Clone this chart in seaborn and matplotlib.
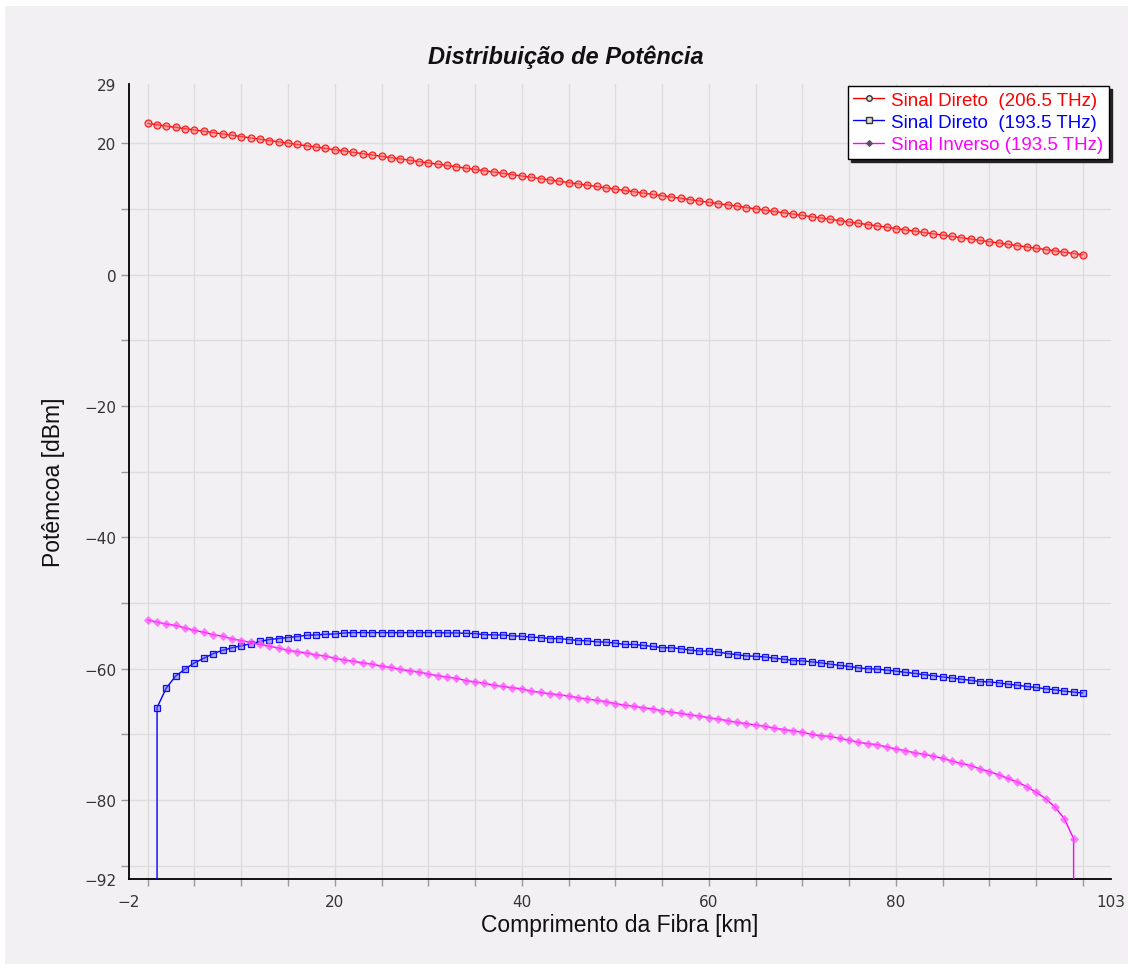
import matplotlib
matplotlib.use("Agg")
import matplotlib.pyplot as plt
from matplotlib.lines import Line2D
from matplotlib.patches import Rectangle
from matplotlib.ticker import FixedLocator, FixedFormatter
import seaborn as sns

# ---------------- data ----------------
title = "Distribuição de Potência"
x_label = "Comprimento da Fibra [km]"
y_label = "Potêmcoa [dBm]"
series_labels = ["Sinal Direto  (206.5 THz)",
                 "Sinal Direto  (193.5 THz)",
                 "Sinal Inverso (193.5 THz)"]

red_km = list(range(0, 101))
red_dbm = [23.0, 22.8, 22.6, 22.4, 22.2, 22.0, 21.8, 21.6, 21.4, 21.2,
           21.0, 20.8, 20.6, 20.4, 20.2, 20.0, 19.8, 19.6, 19.4, 19.2,
           19.0, 18.8, 18.6, 18.4, 18.2, 18.0, 17.8, 17.6, 17.4, 17.2,
           17.0, 16.8, 16.6, 16.4, 16.2, 16.0, 15.8, 15.6, 15.4, 15.2,
           15.0, 14.8, 14.6, 14.4, 14.2, 14.0, 13.8, 13.6, 13.4, 13.2,
           13.0, 12.8, 12.6, 12.4, 12.2, 12.0, 11.8, 11.6, 11.4, 11.2,
           11.0, 10.8, 10.6, 10.4, 10.2, 10.0, 9.8, 9.6, 9.4, 9.2,
           9.0, 8.8, 8.6, 8.4, 8.2, 8.0, 7.8, 7.6, 7.4, 7.2,
           7.0, 6.8, 6.6, 6.4, 6.2, 6.0, 5.8, 5.6, 5.4, 5.2,
           5.0, 4.8, 4.6, 4.4, 4.2, 4.0, 3.8, 3.6, 3.4, 3.2,
           3.0]

# first point is the zero-power floor (drop line at 1 km)
blue_km = [1] + list(range(1, 101))
blue_dbm = [-300.0,
            -65.9, -62.9, -61.1, -60.05, -59.1, -58.4, -57.7, -57.2, -56.8, -56.5,
            -56.2, -55.85, -55.55, -55.4, -55.25, -55.1, -54.9, -54.85, -54.75, -54.7,
            -54.55, -54.5, -54.5, -54.5, -54.5, -54.5, -54.5, -54.5, -54.5, -54.5,
            -54.5, -54.55, -54.55, -54.6, -54.65, -54.8, -54.85, -54.85, -55.0, -55.05,
            -55.2, -55.25, -55.4, -55.4, -55.55, -55.7, -55.75, -55.9, -55.95, -56.1,
            -56.3, -56.3, -56.45, -56.6, -56.8, -56.8, -56.95, -57.15, -57.3, -57.3,
            -57.45, -57.7, -57.85, -58.05, -58.1, -58.2, -58.4, -58.55, -58.75, -58.8,
            -58.95, -59.1, -59.3, -59.5, -59.65, -59.85, -60.0, -60.05, -60.2, -60.35,
            -60.55, -60.7, -60.9, -61.05, -61.25, -61.4, -61.6, -61.75, -61.95, -62.0,
            -62.15, -62.35, -62.5, -62.7, -62.85, -63.05, -63.2, -63.4, -63.55, -63.7]

# last point is the zero-power floor (drop line at 99 km)
mag_km = list(range(0, 100)) + [99]
mag_dbm = [-52.55, -52.9, -53.2, -53.4, -53.8, -54.15, -54.45, -54.8, -55.05, -55.45,
           -55.7, -56.0, -56.3, -56.55, -56.85, -57.2, -57.4, -57.6, -57.9, -58.05,
           -58.4, -58.65, -58.85, -59.1, -59.3, -59.6, -59.8, -60.1, -60.3, -60.5,
           -60.8, -61.05, -61.25, -61.45, -61.8, -62.0, -62.2, -62.5, -62.7, -62.9,
           -63.05, -63.4, -63.6, -63.8, -63.95, -64.15, -64.4, -64.6, -64.8, -65.0,
           -65.3, -65.55, -65.7, -65.95, -66.1, -66.4, -66.6, -66.8, -67.0, -67.2,
           -67.45, -67.65, -67.9, -68.15, -68.35, -68.55, -68.75, -69.05, -69.25, -69.45,
           -69.65, -70.0, -70.2, -70.3, -70.6, -70.85, -71.2, -71.4, -71.55, -71.9,
           -72.2, -72.45, -72.8, -73.0, -73.3, -73.65, -74.05, -74.4, -74.75, -75.25,
           -75.65, -76.15, -76.7, -77.25, -77.95, -78.8, -79.75, -81.05, -82.8, -85.85,
           -300.0]

x_major = [-2, 20, 40, 60, 80, 103]
x_major_labels = ["−2", "20", "40", "60", "80", "103"]
x_minor = list(range(0, 101, 5))
y_major = [-92, -80, -60, -40, -20, 0, 20, 29]
y_major_labels = ["−92", "−80", "−60", "−40", "−20", "0", "20", "29"]
y_minor = list(range(-90, 21, 10))

# ---------------- style ----------------
sns.set_theme(style="white")
BG = "#f2f0f3"
plt.rcParams["font.family"] = ["Liberation Sans", "DejaVu Sans"]

fig = plt.figure(figsize=(11.32, 9.70), dpi=100)
fig.patch.set_facecolor("white")
fig.patches.append(Rectangle((5 / 1132, 5 / 970), 1123 / 1132, 958 / 970,
                             transform=fig.transFigure, facecolor=BG,
                             edgecolor="none", zorder=-10))

L, R, T, B = 129, 1111, 85, 880
ax = fig.add_axes([L / 1132, 1 - B / 970, (R - L) / 1132, (B - T) / 970])
ax.set_facecolor(BG)

sns.lineplot(x=red_km, y=red_dbm, ax=ax, estimator=None, sort=False,
             color="#ff0000", lw=1.0, marker="o", markersize=5,
             markerfacecolor=(1, 0.45, 0.45, 0.55), markeredgecolor="#ff2020",
             markeredgewidth=0.9, legend=False, zorder=5)
sns.lineplot(x=blue_km, y=blue_dbm, ax=ax, estimator=None, sort=False,
             color="#0000ff", lw=1.0, marker="s", markersize=4.8,
             markerfacecolor=(0.35, 0.35, 1, 0.45), markeredgecolor="#1010ee",
             markeredgewidth=0.9, legend=False, zorder=5)
sns.lineplot(x=mag_km, y=mag_dbm, ax=ax, estimator=None, sort=False,
             color="#ff00ff", lw=1.0, marker="D", markersize=3.6,
             markerfacecolor=(1, 0.3, 1, 0.7), markeredgecolor=(1, 0.4, 1, 0.6),
             markeredgewidth=0.8, legend=False, zorder=5)

ax.set_xlim(-2, 103)
ax.set_ylim(-92, 29)

for s in ["top", "right"]:
    ax.spines[s].set_visible(False)
for s in ["left", "bottom"]:
    ax.spines[s].set_color("black")
    ax.spines[s].set_linewidth(1.3)

ax.xaxis.set_major_locator(FixedLocator(x_major))
ax.xaxis.set_major_formatter(FixedFormatter(x_major_labels))
ax.xaxis.set_minor_locator(FixedLocator(x_minor))
ax.yaxis.set_major_locator(FixedLocator(y_major))
ax.yaxis.set_major_formatter(FixedFormatter(y_major_labels))
ax.yaxis.set_minor_locator(FixedLocator(y_minor))
ax.xaxis.remove_overlapping_locs = False
ax.yaxis.remove_overlapping_locs = False

ax.tick_params(axis="both", which="major", length=0, labelsize=11,
               labelcolor="#333333")
ax.tick_params(axis="x", which="major", pad=11)
ax.tick_params(axis="y", which="major", pad=9)
ax.tick_params(axis="x", which="minor", length=5, width=1, color="#999999",
               direction="out", bottom=True)
ax.tick_params(axis="y", which="minor", length=6, width=1, color="#999999",
               direction="out", left=True)
for lab in ax.get_xticklabels() + ax.get_yticklabels():
    lab.set_fontfamily("DejaVu Sans")

ax.grid(False, which="major")
ax.grid(True, which="minor", color="#dddddd", lw=1.0)
ax.set_axisbelow(True)

ax.set_xlabel(x_label, fontsize=16.5, color="#111111")
ax.set_ylabel(y_label, fontsize=16.5, color="#111111")
ax.xaxis.set_label_coords(0.5, -(914 - 880) / 795)
ax.xaxis.label.set_va("top")
ax.yaxis.set_label_coords(-(129 - 65) / 982, 0.5)

fig.text(0.5, 1 - 57 / 970, title, ha="center", va="center",
         fontsize=17, fontweight="bold", fontstyle="italic", color="#111111")

handles = [
    Line2D([], [], color="#ff0000", lw=1, marker="o", markersize=4,
           markerfacecolor="#dddddd", markeredgecolor="#333333", markeredgewidth=1),
    Line2D([], [], color="#0000ff", lw=1, marker="s", markersize=4,
           markerfacecolor="#dddddd", markeredgecolor="#333333", markeredgewidth=1),
    Line2D([], [], color="#ff00ff", lw=1, marker="D", markersize=3,
           markerfacecolor="#555555", markeredgecolor="#555555", markeredgewidth=0.8),
]
leg = ax.legend(handles, series_labels, loc="upper right",
                bbox_to_anchor=(0.998, 0.9975), borderaxespad=0,
                fontsize=13.5, frameon=True, fancybox=False,
                edgecolor="black", facecolor="white", framealpha=1,
                handlelength=1.65, handletextpad=0.37, labelspacing=0.27,
                borderpad=0.3, shadow={"color": "#222222", "alpha": 1})
leg.get_frame().set_linewidth(1.0)
for txt, c in zip(leg.get_texts(), ["#ff0000", "#0000ff", "#ff00ff"]):
    txt.set_color(c)

fig.savefig("out.png", dpi=100, facecolor=fig.get_facecolor())
